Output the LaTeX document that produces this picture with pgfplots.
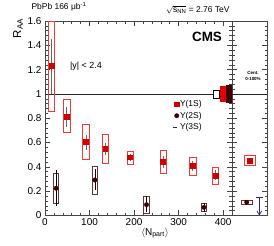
\documentclass[border=0pt]{standalone}
\usepackage{fontspec}
\setmainfont{Liberation Sans}
\usepackage{amsmath}
\usepackage{pgfplots}
\usepackage{pgfplotstable}
\pgfplotsset{compat=1.18}
\usetikzlibrary{arrows.meta}
\definecolor{cA}{RGB}{204,0,0}
\definecolor{cAbox}{RGB}{232,60,60}
\definecolor{cB}{RGB}{62,0,0}
\definecolor{cBbox}{RGB}{105,50,50}
\definecolor{cC}{RGB}{40,40,120}
\definecolor{frame}{RGB}{70,70,70}
\newcommand{\sysbox}[5]{\addplot[#5, forget plot, line width=0.7bp] coordinates {(#1,#3) (#2,#3) (#2,#4) (#1,#4)} -- cycle;}
\pgfplotsset{
  common/.style={
    scale only axis, height=194.5bp, ymin=0, ymax=1.6,
    ytick={0,0.2,0.4,0.6,0.8,1,1.2,1.4,1.6}, minor y tick num=4,
    tick align=inside, major tick length=5bp, minor tick length=2.5bp,
    axis line style={frame, line width=0.6bp},
    every tick/.style={frame, line width=0.5bp},
    ticklabel style={font=\fontsize{10}{12}\selectfont},
    /pgf/number format/assume math mode=true,
  }
}
\pgfplotstableread{
x y lo hi
15 1.23 1.00 1.45
49 0.81 0.73 0.89
92 0.605 0.54 0.665
135 0.547 0.50 0.596
191 0.479 0.446 0.51
265 0.44 0.39 0.487
332 0.41 0.364 0.446
383 0.33 0.29 0.372
}\tabA
\pgfplotstableread{
x y lo hi
25 0.224 0.08 0.375
112 0.292 0.21 0.38
228 0.089 0.03 0.16
357 0.067 0.025 0.10
}\tabB
\begin{document}
\begin{tikzpicture}
\useasboundingbox (-45bp,-30.5bp) rectangle (229bp,215.5bp);
\begin{axis}[common, at={(0,0)}, anchor=south west, width=187bp,
  xmin=0, xmax=420, xtick={0,100,200,300,400}, minor x tick num=4,
  legend style={at={(rel axis cs:0.679,0.598)}, anchor=north west, draw=none, fill=none,
    inner sep=0pt, row sep=2.5bp, font=\fontsize{8.5}{9.5}\selectfont,
    nodes={inner sep=0.8bp}},
  legend cell align=left]
\addlegendimage{legend image code/.code={\fill[cA] (2bp,-2.2bp) rectangle (6.4bp,2.2bp); \path (0bp,0bp) (6.5bp,0bp);}}
\addlegendentry{Υ(1S)}
\addlegendimage{legend image code/.code={\fill[cB] (4.2bp,0bp) circle (2.2bp); \path (0bp,0bp) (6.5bp,0bp);}}
\addlegendentry{Υ(2S)}
\addlegendimage{legend image code/.code={\draw[cC, line width=0.7bp] (0bp,0bp) -- (4bp,0bp); \path (0bp,0bp) (5bp,0bp);}}
\addlegendentry{Υ(3S)}
\addplot[black!85, line width=0.5bp, forget plot] coordinates {(0,1) (420,1)};
% Upsilon(1S) systematic boxes
\sysbox{8}{22}{0.86}{1.6}{cAbox}
\sysbox{42}{56}{0.68}{0.955}{cAbox}
\sysbox{85}{99}{0.46}{0.75}{cAbox}
\sysbox{128}{142}{0.426}{0.665}{cAbox}
\sysbox{184}{198}{0.418}{0.528}{cAbox}
\sysbox{258}{272}{0.344}{0.533}{cAbox}
\sysbox{325}{339}{0.33}{0.479}{cAbox}
\sysbox{376}{390}{0.254}{0.397}{cAbox}
% Upsilon(2S) systematic boxes
\sysbox{19}{31}{0.10}{0.347}{cBbox}
\sysbox{106}{118}{0.177}{0.407}{cBbox}
\sysbox{222}{234}{0.02}{0.158}{cBbox}
\sysbox{351}{363}{0.035}{0.10}{cBbox}
\addplot[only marks, mark=square*, mark size=2.4bp, color=cA, forget plot,
  error bars/.cd, y dir=both, y explicit, error mark=none,
  error bar style={black!60, line width=0.7bp}]
  table[x=x, y=y, y error plus expr=\thisrow{hi}-\thisrow{y}, y error minus expr=\thisrow{y}-\thisrow{lo}] {\tabA};
\addplot[only marks, mark=*, mark size=2.2bp, color=cB, forget plot,
  error bars/.cd, y dir=both, y explicit, error mark=none,
  error bar style={black, line width=0.7bp}]
  table[x=x, y=y, y error plus expr=\thisrow{hi}-\thisrow{y}, y error minus expr=\thisrow{y}-\thisrow{lo}] {\tabB};
% global uncertainties
\addplot[draw=black, fill=white, line width=0.6bp, forget plot] coordinates {(377,0.968) (392,0.968) (392,1.032) (377,1.032)} -- cycle;
\addplot[draw=none, fill=red!90!black, forget plot] coordinates {(393,0.934) (407,0.934) (407,1.066) (393,1.066)} -- cycle;
\addplot[draw=none, fill=cB, forget plot] coordinates {(407,0.928) (420,0.928) (420,1.072) (407,1.072)} -- cycle;
\end{axis}
\begin{axis}[common, at={(187bp,0)}, anchor=south west, width=35bp,
  xmin=0, xmax=1, xtick=\empty, yticklabel=\empty, clip=false]
\addplot[black!85, line width=0.5bp] coordinates {(0,1) (1,1)};
\sysbox{0.35}{0.66}{0.416}{0.492}{cAbox}
\sysbox{0.257}{0.58}{0.092}{0.128}{cBbox}
\addplot[only marks, mark=square*, mark size=2.4bp, color=cA,
  error bars/.cd, y dir=both, y explicit, error mark=none,
  error bar style={black!60, line width=0.7bp}]
  coordinates {(0.506,0.451) +- (0,0.02)};
\addplot[only marks, mark=*, mark size=2.2bp, color=cB,
  error bars/.cd, y dir=both, y explicit, error mark=none,
  error bar style={black, line width=0.7bp}]
  coordinates {(0.42,0.109) +- (0,0.02)};
\addplot[cC, line width=0.7bp] coordinates {(0.69,0.147) (0.88,0.147)};
\addplot[cC, line width=0.7bp, -{Straight Barb[length=4bp,width=5bp]}] coordinates {(0.78,0.147) (0.78,0.0)};
\end{axis}
% texts
\node[anchor=west, font=\fontsize{8.5}{10}\selectfont] at (-17bp,208.5bp) {PbPb 166 μb\textsuperscript{-1}};
\node[anchor=east, font=\fontsize{8.5}{10}\selectfont] at (188bp,205.5bp) {$\sqrt{\text{s}_{\text{NN}}}$ = 2.76 TeV};
\node[font=\fontsize{13.5}{15}\selectfont\bfseries] at (162bp,178.5bp) {CMS};
\node[font=\fontsize{9}{11}\selectfont] at (41bp,149.5bp) {|y| < 2.4};
\node[font=\fontsize{4.5}{5}\selectfont\bfseries] at (208bp,142.5bp) {Cent.};
\node[font=\fontsize{4.5}{5}\selectfont\bfseries] at (208bp,136.5bp) {0-100\%};
\node[rotate=90, font=\fontsize{11.5}{13}\selectfont] at (-27bp,187bp) {R\textsubscript{AA}};
\node[font=\fontsize{10}{12}\selectfont] at (110bp,-17.5bp) {$\langle$N\textsubscript{part}$\rangle$};
\end{tikzpicture}
\end{document}
